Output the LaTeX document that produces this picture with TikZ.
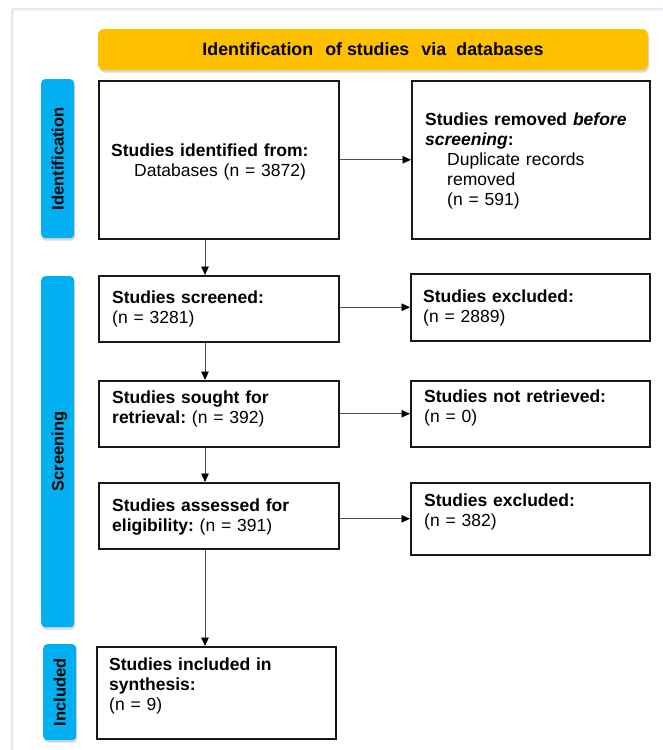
\documentclass[tikz,border=0pt]{standalone}
\usepackage{fontspec}
\setmainfont{Liberation Sans}
\usetikzlibrary{arrows.meta,shadows}
\definecolor{hdrc}{HTML}{FFC000}
\definecolor{barc}{HTML}{00B0F0}
\definecolor{frmc}{HTML}{DDEBF7}
\definecolor{arrc}{HTML}{505050}
\frenchspacing
\begin{document}
\begin{tikzpicture}[x=1pt,y=-1pt,
  stepbox/.style={draw=black!90, line width=1.5pt, anchor=north west, inner sep=0pt, fill=white},
  txt/.style={anchor=base west, inner sep=0pt, align=left, text width=#1,
              font=\fontsize{17.5}{20}\selectfont},
  txt/.default=230pt,
  sidebar/.style={fill=barc, rounded corners=4pt, anchor=north west, inner sep=0pt,
                  drop shadow={shadow xshift=1pt, shadow yshift=-2.5pt, opacity=0.3}},
  sidelabel/.style={rotate=90, inner sep=0pt, text height=12pt, text depth=0pt,
                    font=\bfseries\fontsize{16.5}{18}\selectfont},
  arr/.style={draw=arrc, line width=0.9pt, -{Triangle[length=8.5pt,width=7.5pt,color=black]}}
]
\useasboundingbox (0,0) rectangle (662,750);
\fill[white] (0,0) rectangle (662,750);
\draw[frmc, line width=2.5pt, rounded corners=3pt] (12,9) rectangle (700,790);

% header
\node[fill=hdrc, rounded corners=6pt, minimum width=550pt, minimum height=41pt, inner sep=0pt,
      drop shadow={shadow xshift=1pt, shadow yshift=-2.5pt, opacity=0.3},
      font=\bfseries\fontsize{17.8}{20}\selectfont] (hdr) at (373,49.5)
  {Identification\hspace{0.4em} of studies\hspace{0.4em} via\hspace{0.3em} databases};

% side bars
\node[sidebar, minimum width=33pt, minimum height=159pt] (idbar) at (41,79) {};
\node[sidelabel] (idlab) at (idbar.center) {Identification};
\node[sidebar, minimum width=33pt, minimum height=351pt] (scbar) at (41,276) {};
\node[sidelabel] (sclab) at (scbar.center) {Screening};
\node[sidebar, minimum width=33pt, minimum height=96pt] (inbar) at (43,644) {};
\node[sidelabel] (inlab) at (inbar.center) {Included};

% boxes
\node[stepbox, minimum width=240pt, minimum height=158pt] (b1) at (98,80) {};
\node[stepbox, minimum width=238pt, minimum height=158pt] (rem) at (411,80) {};
\node[stepbox, minimum width=240pt, minimum height=66pt] (scr) at (98,275) {};
\node[stepbox, minimum width=239pt, minimum height=67pt] (ex1) at (410,273) {};
\node[stepbox, minimum width=240pt, minimum height=66pt] (sou) at (98,380) {};
\node[stepbox, minimum width=239pt, minimum height=66pt] (nr) at (410,380) {};
\node[stepbox, minimum width=240pt, minimum height=66pt] (ass) at (98,482) {};
\node[stepbox, minimum width=239pt, minimum height=72pt] (ex2) at (410,482) {};
\node[stepbox, minimum width=239pt, minimum height=92pt] (inc) at (96,646) {};

% texts
\node[txt] (t1) at (111,156) {\textbf{Studies identified from:}\\\hspace*{23pt}Databases (n = 3872)};
\node[txt] (t2) at (425,125) {\textbf{Studies removed \textit{before}}\\\textbf{\textit{screening}:}\\\hspace*{22pt}Duplicate records\\\hspace*{22pt}removed\\\hspace*{22pt}(n = 591)};
\node[txt] (t3) at (112,303) {\textbf{Studies screened:}\\(n = 3281)};
\node[txt] (t4) at (423,302) {\textbf{Studies excluded:}\\(n = 2889)};
\node[txt] (t5) at (112,403) {\textbf{Studies sought for}\\\textbf{retrieval:} (n = 392)};
\node[txt] (t6) at (424,402) {\textbf{Studies not retrieved:}\\(n = 0)};
\node[txt] (t7) at (112,511) {\textbf{Studies assessed for}\\\textbf{eligibility:} (n = 391)};
\node[txt] (t8) at (424,506) {\textbf{Studies excluded:}\\(n = 382)};
\node[txt] (t9) at (109,670) {\textbf{Studies included in}\\\textbf{synthesis:}\\(n = 9)};

% connectors
\draw[arr] ([xshift=107pt]b1.south west) -- ([xshift=107pt]scr.north west);
\draw[arr] ([xshift=107pt]scr.south west) -- ([xshift=107pt]sou.north west);
\draw[arr] ([xshift=107pt]sou.south west) -- ([xshift=107pt]ass.north west);
\draw[arr] ([xshift=107pt]ass.south west) -- ([xshift=109pt]inc.north west);
\draw[arr] (b1.east) -- (rem.west);
\draw[arr] (scr.east |- ex1.west) -- (ex1.west);
\draw[arr] (sou.east) -- (nr.west);
\draw[arr] (ass.east |- ex2.west) -- (ex2.west);
\end{tikzpicture}
\end{document}
